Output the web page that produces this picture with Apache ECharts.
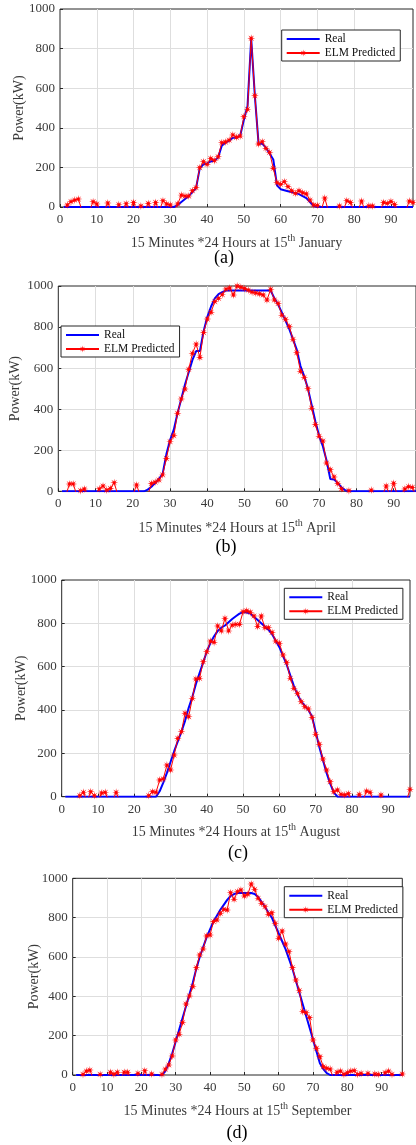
<!DOCTYPE html>
<html>
<head>
<meta charset="utf-8">
<script src="https://cdn.jsdelivr.net/npm/echarts@6/dist/echarts.min.js"></script>
<style>
html,body{margin:0;padding:0;background:#fff;}
#chart{width:416px;height:1145px;}
</style>
</head>
<body>
<div id="chart"></div>
<script>
// ---- data (x = 1..96, 15-minute intervals) ----
const H = -20; // prediction below 0 (clipped, not visible)
const xTicks = [0, 10, 20, 30, 40, 50, 60, 70, 80, 90];
const yTicks = [0, 200, 400, 600, 800, 1000];
const seriesNames = ['Real', 'ELM Predicted'];
const months = ['January', 'April', 'August', 'September'];
const panelTags = ['(a)', '(b)', '(c)', '(d)'];

const realA = [0,0,0,0,0,0,0,0,0,0, 0,0,0,0,0,0,0,0,0,0, 0,0,0,0,0,0,0,0,0,0, 0,
  10,25,40,55,75,95,195,215,220,230,235,250,310,325,335,350,350,360,440,510,850,560,320,320,300,270,240,110,90,85,80,75,70,65,55,45,25,5,
  0,0,0,0,0,0,0,0,0,0, 0,0,0,0,0,0,0,0,0,0, 0,0,0,0,0,0,0];
const elmA = [H,10,27,35,40,H,H,H,27,15, H,H,20,H,H,12,H,17,H,23, H,5,H,18,H,23,H,32,15,10,
  H,15,60,55,55,82,98,198,229,215, 245,234,254,325,328,338,364,352,358,456,
  493,852,562,318,330,296,276,195,123,114, 128,103,82,69,82,72,66,35,10,8,
  H,45,H,H,H,5,H,32,23,H, H,30,H,6,5,H,H,23,18,28, 13,H,H,H,30,23];

const realB = [0,0,0,0,0,0,0,0,0,0, 0,0,0,0,0,0,0,0,0,0, 0,0,0,
  8,22,40,60,85,180,250,300,380,450,520,580,640,683,683,780,850,900,940,960,970,
  978,978,978,978,978,978,978,978,978,978,978,978,978,
  940,910,870,830,790,740,690,610,560,500,420,340,270,220,150,60,58,40,20,5,
  0,0,0,0,0,0,0,0,0,0, 0,0,0,0,0,0,0,0,0];
const elmB = [H,H,36,36,H,3,11,H,H,H, 12,26,6,14,42,H,H,H,H,H, 31,H,H,H,38,45,55,80,160,242,
  271,380,450,498,594,672,717,652,773,839, 872,924,940,958,985,990,956,1000,994,988,
  980,970,966,962,956,932,984,932,915,858, 838,802,740,675,585,555,500,405,325,268,
  245,138,105,70,38,12,H,3,H,H, H,H,H,6,H,H,H,26,H,39, H,H,11,23,19,H];

const realC = [0,0,0,0,0,0,0,0,0,0, 0,0,0,0,0,0,0,0,0,0, 0,0,0,0,0,0,
  25,65,110,160,210,255,300,350,410,460,520,570,620,670,710,740,765,780,790,805,820,833,845,852,850,845,830,815,800,785,770,750,720,690,650,610,560,510,470,440,420,400,370,300,230,170,110,60,20,
  0,0,0,0,0,0,0,0,0,0, 0,0,0,0,0,0,0,0,0,0, 0];
const elmC = [H,H,H,H,5,20,H,23,5,H, 17,20,H,H,20,H,H,H,H,H, H,H,H,5,23,20,77,82,146,123,
  192,269,300,385,369,454,543,546,623,669, 718,712,788,765,823,765,792,795,795,854,
  858,851,834,785,834,780,780,758,718,708, 654,620,546,500,477,438,415,405,366,288,
  242,174,123,69,23,31,11,8,14,H, H,11,H,26,20,H,H,8,H,H, H,H,H,H,H,34];

const realD = [0,0,0,0,0,0,0,0,0,0, 0,0,0,0,0,0,0,0,0,0, 0,0,0,0,0,0,
  20,60,110,170,230,290,350,410,470,540,600,650,700,740,780,810,840,865,890,910,920,925,925,925,925,925,920,905,880,855,825,800,760,720,680,640,590,540,480,420,360,300,240,180,120,60,30,10,
  0,0,0,0,0,0,0,0,0,0, 0,0,0,0,0,0,0,0,0,0, 0,0];
const elmD = [H,H,3,20,25,H,H,3,H,H, 14,3,14,H,14,14,H,H,8,H, 22,H,5,H,H,3,30,51,97,178,
  207,266,361,402,449,546,610,641,707,712, 780,788,822,842,839,927,893,932,941,910,
  919,971,944,898,873,856,817,825,771,695, 732,666,627,546,483,429,322,317,292,178,
  136,93,42,34,30,H,14,20,3,12, 20,22,3,8,H,8,H,5,3,H, 12,20,3,H,H,5];

const realAll = [realA, realB, realC, realD];
const elmAll = [elmA, elmB, elmC, elmD];

// ---- layout / style ----
const FONT = 'Liberation Serif';
const TXT = '#3a3a3a';
const grids = [
  {left: 60,   top: 9,     width: 353,   height: 198},
  {left: 58.3, top: 286,   width: 360,   height: 205.3},
  {left: 61.7, top: 580,   width: 348.3, height: 216.7},
  {left: 72.7, top: 878.3, width: 329.6, height: 196.7}
];
const yNameGap = [34, 36, 33, 31];
const xNameGap = [26, 27, 26, 26];
const legendPos = [
  {left: 281.7, top: 30,    itemWidth: 33},
  {left: 61,    top: 326,   itemWidth: 33},
  {left: 284.3, top: 588.3, itemWidth: 33},
  {left: 284.3, top: 886.7, itemWidth: 33}
];
const tagPos = [[224, 258], [226, 547], [238, 853], [237, 1133]];

// asterisk-like marker
let pts = [];
for (let i = 0; i < 16; i++) {
  const a = Math.PI * i / 8;
  const r = i % 2 === 0 ? 1 : 0.32;
  pts.push((r * Math.sin(a)).toFixed(3) + ',' + (-r * Math.cos(a)).toFixed(3));
}
const starPath = 'path://M' + pts.join('L') + 'Z';
const lineIcon = 'path://M0,0L100,0L100,6L0,6Z';

const option = {
  animation: false,
  backgroundColor: '#fff',
  grid: grids.map(g => Object.assign({show: true, borderColor: '#262626', borderWidth: 1, backgroundColor: '#fff', containLabel: false}, g)),
  xAxis: grids.map((g, i) => ({
    type: 'value', gridIndex: i, min: 0, max: 96, interval: 10,
    axisLine: {show: false},
    axisTick: {show: true, inside: true, length: 3, lineStyle: {color: '#262626'}, customValues: xTicks},
    axisLabel: {fontFamily: FONT, fontSize: 13, color: TXT, margin: 6, customValues: xTicks,
      formatter: v => String(v)},
    splitLine: {show: true, showMinLine: false, showMaxLine: false, lineStyle: {color: '#dedede', width: 1}},
    name: '{n|15 Minutes *24 Hours at 15}{s|th}{n| ' + months[i] + '}',
    nameLocation: 'middle', nameGap: xNameGap[i],
    nameTextStyle: {
      rich: {
        n: {fontFamily: FONT, fontSize: 14, color: TXT, lineHeight: 17, verticalAlign: 'bottom'},
        s: {fontFamily: FONT, fontSize: 10, color: TXT, lineHeight: 10, verticalAlign: 'top'}
      }
    }
  })),
  yAxis: grids.map((g, i) => ({
    type: 'value', gridIndex: i, min: 0, max: 1000, interval: 200,
    axisLine: {show: false},
    axisTick: {show: true, inside: true, length: 3, lineStyle: {color: '#262626'}},
    axisLabel: {fontFamily: FONT, fontSize: 13, color: TXT, margin: 5, formatter: v => String(v)},
    splitLine: {show: true, showMinLine: false, showMaxLine: false, lineStyle: {color: '#dedede', width: 1}},
    name: 'Power(kW)', nameLocation: 'middle', nameRotate: 90, nameGap: yNameGap[i],
    nameMoveOverlap: false,
    nameTextStyle: {fontFamily: FONT, fontSize: 14, color: TXT}
  })),
  legend: legendPos.map((p, i) => ({
    orient: 'vertical', left: p.left, top: p.top,
    data: [{name: seriesNames[0], icon: lineIcon}, {name: seriesNames[1]}],
    itemWidth: p.itemWidth, itemHeight: 9, itemGap: 0,
    padding: [2, 5, 1, 4],
    borderColor: '#262626', borderWidth: 1, borderRadius: 0, backgroundColor: '#fff',
    textStyle: {fontFamily: FONT, fontSize: 11.5, color: '#111', lineHeight: 14},
    selectedMode: false
  })),
  graphic: tagPos.map((p, i) => ({
    type: 'text', x: p[0], y: p[1],
    style: {text: panelTags[i], font: '18px "Liberation Serif"', fill: '#000', textAlign: 'center', textVerticalAlign: 'middle'}
  })),
  series: []
};

for (let i = 0; i < 4; i++) {
  option.series.push({
    name: seriesNames[0], type: 'line', xAxisIndex: i, yAxisIndex: i,
    data: realAll[i].map((v, k) => [k + 1, v]),
    symbol: 'none', clip: true,
    lineStyle: {color: '#0000ff', width: 2},
    itemStyle: {color: '#0000ff'}
  });
  option.series.push({
    name: seriesNames[1], type: 'line', xAxisIndex: i, yAxisIndex: i,
    data: elmAll[i].map((v, k) => [k + 1, v]),
    symbol: starPath, symbolSize: 8, showSymbol: true, clip: true,
    lineStyle: {color: '#ff0000', width: 1},
    itemStyle: {color: '#ff0000'}
  });
}

const chart = echarts.init(document.getElementById('chart'), null, {renderer: 'canvas'});
chart.setOption(option);
</script>
</body>
</html>
